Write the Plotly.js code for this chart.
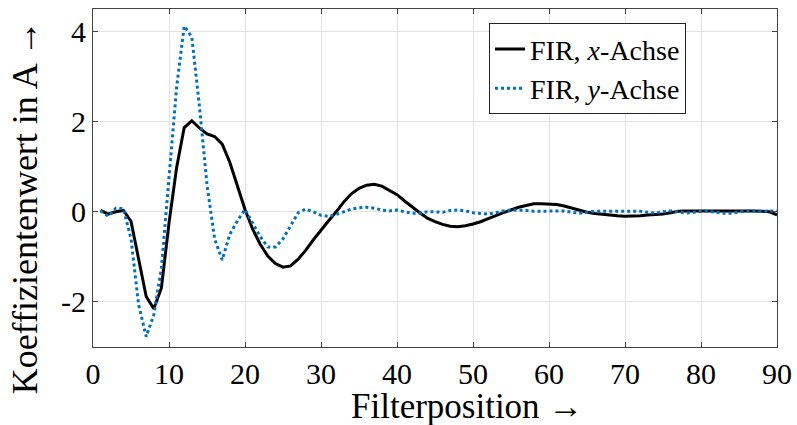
<!DOCTYPE html>
<html>
<head>
<meta charset="utf-8">
<script src="https://cdn.plot.ly/plotly-3.0.1.min.js"></script>
<style>html,body{margin:0;padding:0;background:#fff;}#chart{width:797px;height:425px;}</style>
</head>
<body>
<div id="chart"></div>
<script>
const positions = Array.from({length: 90}, (_, i) => i + 1);
const firX = [0.03,-0.05,0.0,0.03,-0.21,-1.02,-1.88,-2.15,-1.69,-0.25,
  0.98,1.87,2.02,1.86,1.73,1.67,1.5,1.1,0.58,0.05,
  -0.38,-0.72,-0.98,-1.15,-1.23,-1.2,-1.05,-0.85,-0.62,-0.4,
  -0.2,0.0,0.22,0.4,0.52,0.59,0.61,0.57,0.48,0.38,
  0.24,0.1,-0.02,-0.14,-0.22,-0.28,-0.32,-0.33,-0.31,-0.27,
  -0.22,-0.15,-0.08,-0.02,0.04,0.1,0.14,0.18,0.18,0.17,
  0.16,0.13,0.08,0.03,-0.01,-0.04,-0.06,-0.08,-0.09,-0.1,
  -0.1,-0.09,-0.07,-0.06,-0.05,-0.02,0.01,0.02,0.02,0.03,
  0.03,0.03,0.03,0.02,0.02,0.02,0.02,0.01,0.0,-0.07];
const firY = [0.02,-0.1,0.08,0.07,-0.6,-2.06,-2.77,-2.29,-1.25,0.7,
  2.76,4.12,3.88,2.35,0.6,-0.6,-1.07,-0.5,-0.2,0.05,
  -0.25,-0.55,-0.78,-0.78,-0.6,-0.3,-0.02,0.06,0.0,-0.08,
  -0.1,-0.06,0.0,0.06,0.09,0.1,0.08,0.04,0.02,0.04,
  0.0,-0.03,-0.03,0.0,0.0,-0.01,0.03,0.04,0.02,-0.02,
  -0.04,-0.05,-0.02,0.02,0.04,0.04,0.03,0.01,0.01,0.02,
  0.02,0.02,-0.01,-0.03,-0.01,0.01,0.01,0.01,0.01,0.01,
  0.01,0.01,-0.01,-0.03,0.0,0.02,0.0,-0.03,-0.01,0.01,
  0.01,-0.01,-0.03,-0.03,0.0,0.02,0.01,0.01,0.01,0.02];
const seriesNames = ['FIR, <i>x</i>-Achse', 'FIR, <i>y</i>-Achse'];
const yTickVals = [-2, 0, 2, 4];
const yTickText = ['-2', '0', '2', '4'];
const xTickVals = [0,10,20,30,40,50,60,70,80,90];
const xTickText = ['0','10','20','30','40','50','60','70','80','90'];
const xTitle = 'Filterposition →';
const yTitle = 'Koeffizientenwert in A →';

const font = 'Liberation Serif, Times New Roman, serif';
const traces = [
  {x: positions, y: firX, name: seriesNames[0], mode: 'lines', type: 'scatter',
   line: {color: '#000000', width: 3}},
  {x: positions, y: firY, name: seriesNames[1], mode: 'lines', type: 'scatter',
   line: {color: '#0072BD', width: 3, dash: 'dot'}}
];
const axisCommon = {
  showline: true, linecolor: '#444', linewidth: 1, mirror: 'ticks',
  ticks: 'inside', ticklen: 5, tickcolor: '#444',
  showgrid: true, gridcolor: '#e3e3e3', gridwidth: 1, zeroline: false,
  tickfont: {family: font, size: 30, color: '#000'}
};
const layout = {
  width: 797, height: 425,
  margin: {l: 93, r: 20, t: 9, b: 78},
  paper_bgcolor: '#fff', plot_bgcolor: '#fff',
  font: {family: font, color: '#000'},
  xaxis: Object.assign({}, axisCommon, {
    range: [0, 90], tickvals: xTickVals, ticktext: xTickText
  }),
  yaxis: Object.assign({}, axisCommon, {
    range: [-3, 4.5], tickvals: yTickVals, ticktext: yTickText
  }),
  annotations: [
    {text: xTitle, xref: 'paper', yref: 'paper', x: 0.547, y: -0.175,
     xanchor: 'center', yanchor: 'middle', showarrow: false,
     font: {family: font, size: 35, color: '#000'}},
    {text: yTitle, xref: 'paper', yref: 'paper', x: -0.099, y: 0.414,
     xanchor: 'center', yanchor: 'middle', showarrow: false, textangle: -90,
     font: {family: font, size: 36, color: '#000'}}
  ],
  showlegend: true,
  legend: {
    x: 0.579, y: 0.958, xanchor: 'left', yanchor: 'top',
    bgcolor: '#fff', bordercolor: '#222', borderwidth: 1,
    font: {family: font, size: 28, color: '#000'},
    tracegroupgap: 0
  }
};
Plotly.newPlot('chart', traces, layout, {staticPlot: true, displayModeBar: false});
</script>
</body>
</html>
